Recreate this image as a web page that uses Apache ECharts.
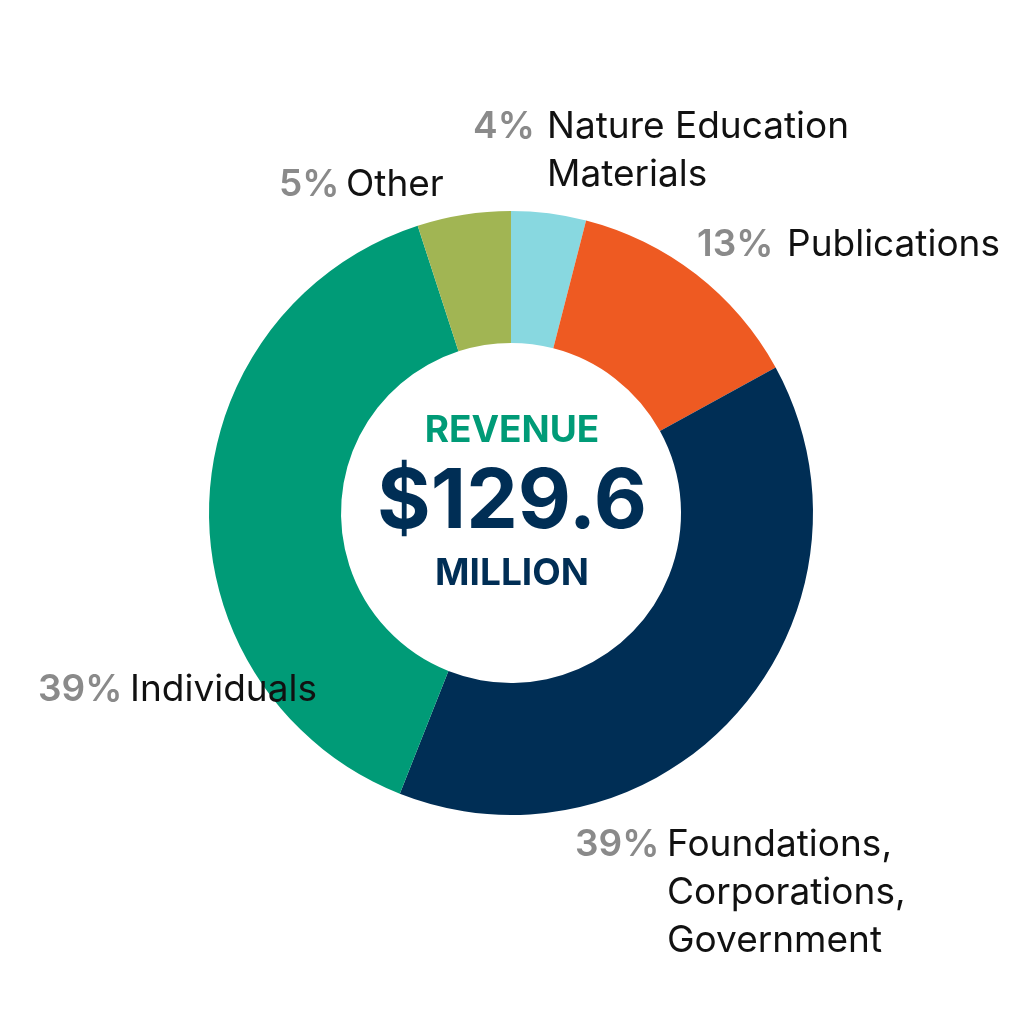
<!DOCTYPE html>
<html>
<head>
<meta charset="utf-8">
<script src="https://cdn.jsdelivr.net/npm/echarts@6/dist/echarts.min.js"></script>
<style>html,body{margin:0;padding:0;background:#fff}#main{width:1024px;height:1024px}</style>
</head>
<body>
<div id="main"></div>
<script>
// 收入构成
var names = ['Nature Education\nMaterials', 'Publications', 'Foundations,\nCorporations,\nGovernment', 'Individuals', 'Other'];
var values = [4, 13, 39, 39, 5];
var colors = ['#88D8E0', '#EE5A22', '#002E55', '#009B77', '#A1B553'];
// 标签位置（左上角）和百分比宽度
var labelPos = [[473, 103], [697, 221], [575, 821], [38, 666], [279, 161]];
var pctWidth = [74, 90, 92, 92, 67];

var myChart = echarts.init(document.getElementById('main'));
var data = [];
for (var i = 0; i < values.length; i++) {
	var lines = names[i].split('\n');
	var txt = '{p|' + values[i] + '%}{n|' + lines[0] + '}';
	for (var j = 1; j < lines.length; j++) {
		txt += '\n{s|}{n|' + lines[j] + '}';
	}
	data.push({
		value: values[i],
		name: names[i],
		itemStyle: { color: colors[i] },
		label: {
			formatter: txt,
			rich: {
				p: { color: '#8A8A8A', fontSize: 37, fontWeight: 600, width: pctWidth[i], fontFamily: 'Inter', lineHeight: 48 },
				s: { width: pctWidth[i], fontSize: 37, lineHeight: 48 },
				n: { color: '#111', fontSize: 37, fontFamily: 'Inter', lineHeight: 48 }
			}
		}
	});
}

var option = {
	animation: false,
	series: [{
		type: 'pie',
		center: [511, 513],
		radius: [170, 302],
		startAngle: 90,
		clockwise: true,
		data: data,
		label: { show: true, position: 'outside', overflow: 'none', alignTo: 'none' },
		labelLine: { show: false },
		labelLayout: function (params) {
			var p = labelPos[params.dataIndex];
			return { x: p[0], y: p[1], align: 'left', verticalAlign: 'top' };
		}
	}],
	graphic: [
		{ type: 'text', left: 'center', top: 412, style: { text: 'REVENUE', fill: '#009B77', font: 'bold 37px Inter' } },
		{ type: 'text', left: 'center', top: 462, style: { text: '$129.6', fill: '#002E55', font: 'bold 82px Inter' } },
		{ type: 'text', left: 'center', top: 555, style: { text: 'MILLION', fill: '#002E55', font: 'bold 37px Inter' } }
	]
};
myChart.setOption(option);
</script>
</body>
</html>
